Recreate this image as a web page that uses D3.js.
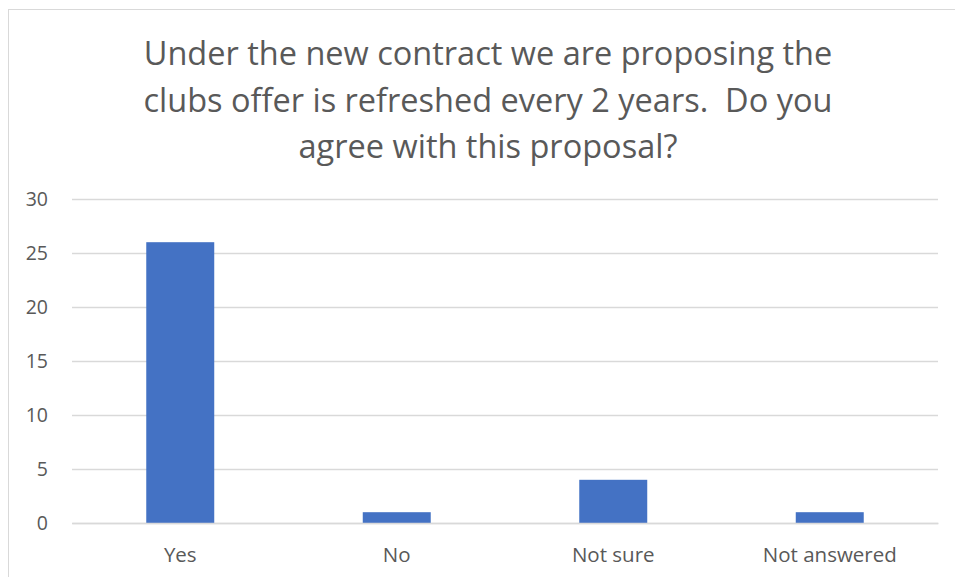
<!DOCTYPE html>
<html><head><meta charset="utf-8">
<script src="https://cdn.jsdelivr.net/npm/d3@7"></script>
<style>body{margin:0;background:#fff}svg{display:block}</style>
</head><body>
<svg id="c" width="955" height="577"></svg>
<script>
const categories = ["Yes", "No", "Not sure", "Not answered"];
const values = [26, 1, 4, 1];
const yTicks = [0, 5, 10, 15, 20, 25, 30];
const titleLines = ["Under the new contract we are proposing the", "clubs offer is refreshed every 2 years.  Do you", "agree with this proposal?"];

const svg = d3.select("#c");
const font = "'Open Sans', 'Liberation Sans', sans-serif";
const textColor = "#595959";

// chart border (left & top visible)
svg.append("line").attr("x1", 8.5).attr("x2", 8.5).attr("y1", 9).attr("y2", 577).attr("stroke", "#d9d9d9");
svg.append("line").attr("x1", 8).attr("x2", 955).attr("y1", 9.5).attr("y2", 9.5).attr("stroke", "#d9d9d9");

const x = d3.scaleBand().domain(categories).range([72, 938]).paddingInner(0.686).paddingOuter(0.343);
const y = d3.scaleLinear().domain([0, 30]).range([523, 199]);

// title
svg.append("g").selectAll("text").data(titleLines).join("text")
  .attr("x", 488).attr("y", (d, i) => 65 + i * 46.5)
  .attr("text-anchor", "middle").attr("font-family", font).attr("font-size", 32.5)
  .attr("fill", textColor).attr("xml:space", "preserve").style("white-space", "pre").text(d => d);

// gridlines
const yAxis = d3.axisLeft(y).tickValues(yTicks).tickSize(-(938 - 72)).tickPadding(24);
const gy = svg.append("g").attr("transform", "translate(72,0)").call(yAxis);
gy.select(".domain").remove();
gy.selectAll(".tick line").attr("stroke", "#d9d9d9").attr("stroke-width", 1.3);
gy.selectAll(".tick text").attr("font-family", font).attr("font-size", 19.5).attr("fill", textColor);

// bars
svg.append("g").selectAll("rect").data(values).join("rect")
  .attr("x", (d, i) => x(categories[i]))
  .attr("width", x.bandwidth())
  .attr("y", d => y(d))
  .attr("height", d => y(0) - y(d))
  .attr("fill", "#4472c4");

// x axis
const xAxis = d3.axisBottom(x).tickSize(0).tickPadding(24);
const gx = svg.append("g").attr("transform", "translate(0,523)").call(xAxis);
gx.select(".domain").attr("stroke", "#d9d9d9").attr("stroke-width", 1.3);
gx.selectAll(".tick text").attr("font-family", font).attr("font-size", 20.5).attr("fill", textColor);
</script>
</body></html>
